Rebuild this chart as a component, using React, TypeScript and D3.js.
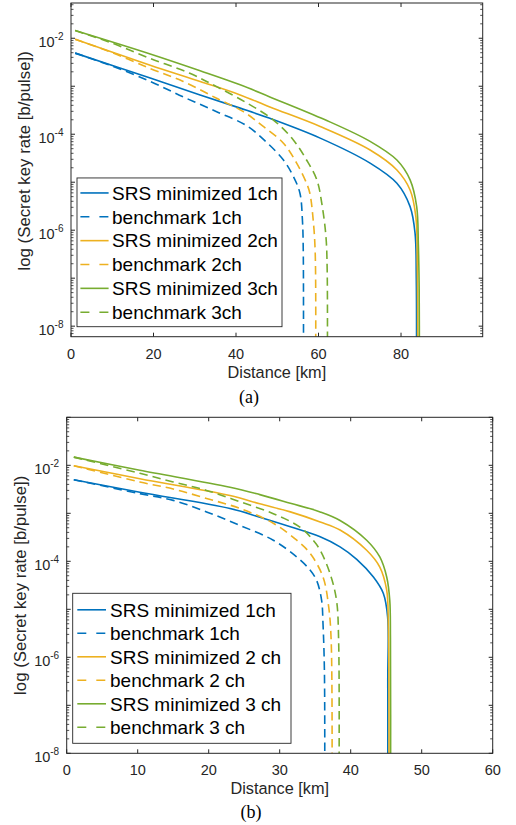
import React from 'react';
import * as d3 from 'd3';

// ---------- colours (MATLAB default order) ----------
const COLORS = ['#0072BD', '#EDB120', '#77AC30'];

// ---------- panel (a) data: distance [km] and secret key rate [b/pulse] ----------
const aSrs1Km = [1, 19.2, 31.3, 41, 48.2, 60.4, 72.5, 79, 82.2, 83.4, 83.7, 83.75];
const aSrs1Rate = [4.9e-3, 1.48e-3, 6.6e-4, 3.5e-4, 2.14e-4, 8.3e-5, 2.5e-5, 9.5e-6, 3.1e-6, 8.7e-7, 1e-7, 1e-9];
const aBen1Km = [1, 10, 19.2, 27.2, 35.3, 42.6, 47.4, 51.5, 53.9, 55.5, 56.1, 56.3, 56.35];
const aBen1Rate = [4.9e-3, 2.63e-3, 1.26e-3, 6.0e-4, 2.95e-4, 1.5e-4, 6.8e-5, 2.9e-5, 1.32e-5, 5.9e-6, 1.62e-6, 3.9e-7, 1e-9];
const aSrs2Km = [1, 19.2, 31.3, 41, 48.2, 60.4, 72.5, 79, 82.2, 83.6, 83.95, 84.05];
const aSrs2Rate = [9.55e-3, 2.75e-3, 1.26e-3, 6.6e-4, 3.7e-4, 1.45e-4, 4.7e-5, 1.8e-5, 6.9e-6, 1.9e-6, 1.6e-7, 1e-9];
const aBen2Km = [1, 10, 19.2, 27.2, 35.3, 41.8, 46.6, 51.5, 54.7, 57.1, 57.9, 58.7, 59.2, 59.3];
const aBen2Rate = [9.55e-3, 5.0e-3, 2.34e-3, 1.26e-3, 5.6e-4, 2.95e-4, 1.45e-4, 6.5e-5, 2.5e-5, 9.5e-6, 5.9e-6, 1.66e-6, 3.4e-7, 1e-9];
const aSrs3Km = [1, 19.2, 31.3, 41, 48.2, 61.6, 72.5, 79, 82.2, 83.8, 84.2, 84.4, 84.45];
const aSrs3Rate = [1.45e-2, 4.7e-3, 2.1e-3, 1.07e-3, 6.0e-4, 2.0e-4, 7.1e-5, 2.9e-5, 1.12e-5, 3.1e-6, 5.0e-7, 6.3e-8, 1e-9];
const aBen3Km = [1, 10, 19.2, 28.8, 35.3, 42.6, 49.0, 53.9, 57.1, 59.6, 60.8, 61.8, 62.1, 62.15];
const aBen3Rate = [1.45e-2, 7.9e-3, 3.8e-3, 1.86e-3, 9.8e-4, 4.5e-4, 2.0e-4, 7.6e-5, 2.9e-5, 1.12e-5, 3.6e-6, 7.4e-7, 1.5e-7, 1e-9];

// ---------- panel (b) data ----------
const bSrs1Km = [1, 10.3, 23.0, 27.2, 31.5, 35.7, 38.5, 40.85, 43.2, 44.6, 45.2, 45.22, 45.23];
const bSrs1Rate = [5.0e-3, 2.75e-3, 1.26e-3, 8.3e-4, 5.25e-4, 3.24e-4, 2.0e-4, 1.1e-4, 4.7e-5, 2.14e-5, 6.9e-6, 3.2e-7, 1e-9];
const bBen1Km = [1, 10.3, 15.0, 19.7, 24.4, 29.1, 32.4, 34.3, 35.2, 35.9, 36.1, 36.3, 36.34];
const bBen1Rate = [5.0e-3, 2.57e-3, 1.86e-3, 1.07e-3, 5.6e-4, 2.75e-4, 1.23e-4, 6.5e-5, 4.0e-5, 1.55e-5, 5.0e-6, 5.0e-7, 1e-9];
const bSrs2Km = [1, 10.3, 23.0, 27.2, 31.5, 35.7, 38.5, 42.25, 44.1, 45.07, 45.3, 45.38, 45.4];
const bSrs2Rate = [9.8e-3, 5.25e-3, 2.34e-3, 1.58e-3, 1.07e-3, 6.6e-4, 4.5e-4, 1.7e-4, 7.6e-5, 2.5e-5, 5.0e-6, 3.2e-7, 1e-9];
const bBen2Km = [1, 10.3, 15.0, 19.7, 24.4, 29.1, 32.4, 34.3, 36.1, 36.9, 37.25, 37.37];
const bBen2Rate = [9.8e-3, 4.5e-3, 3.2e-3, 2.04e-3, 1.26e-3, 6.2e-4, 2.75e-4, 1.45e-4, 4.7e-5, 1.12e-5, 2.24e-6, 1e-9];
const bSrs3Km = [1, 10.3, 23.0, 27.2, 31.5, 35.7, 38.5, 42.25, 44.1, 45.07, 45.5, 45.6, 45.62];
const bSrs3Rate = [1.48e-2, 7.9e-3, 3.5e-3, 2.45e-3, 1.62e-3, 1.07e-3, 7.1e-4, 2.75e-4, 1.23e-4, 4.7e-5, 1.55e-5, 2.5e-6, 1e-9];
const bBen3Km = [1, 10.3, 15.0, 19.7, 24.4, 29.1, 32.9, 34.7, 35.7, 37.1, 38.0, 38.3, 38.35];
const bBen3Rate = [1.48e-2, 6.8e-3, 4.5e-3, 3.0e-3, 1.74e-3, 9.8e-4, 5.1e-4, 2.75e-4, 1.7e-4, 5.5e-5, 1.55e-5, 2.24e-6, 1e-9];

// ---------- axes & labels ----------
const aXDomain = [0, 99.8];
const aXTicks = [0, 20, 40, 60, 80];
const aYDomain = [6.03e-9, 5.43e-2];
const bXDomain = [0, 60];
const bXTicks = [0, 10, 20, 30, 40, 50, 60];
const bYDomain = [1e-8, 1e-1];
const yLabelTicks = [1e-8, 1e-6, 1e-4, 1e-2];
const aLegendLabels = ['SRS minimized 1ch', 'benchmark 1ch', 'SRS minimized 2ch', 'benchmark 2ch', 'SRS minimized 3ch', 'benchmark 3ch'];
const bLegendLabels = ['SRS minimized 1ch', 'benchmark 1ch', 'SRS minimized 2 ch', 'benchmark 2 ch', 'SRS minimized 3 ch', 'benchmark 3 ch'];
const xLabel = 'Distance [km]';
const yLabel = 'log (Secret key rate [b/pulse])';

const FONT = "'Liberation Sans', Arial, Helvetica, sans-serif";
const SERIF = "'Liberation Serif', 'Times New Roman', serif";
const AX = '#262626';

type Series = { km: number[]; rate: number[]; color: string; dashed: boolean };

const zip = (km: number[], rate: number[]) => km.map((k, i) => [k, rate[i]] as [number, number]);

const aSeries: Series[] = [
  { km: aSrs1Km, rate: aSrs1Rate, color: COLORS[0], dashed: false },
  { km: aBen1Km, rate: aBen1Rate, color: COLORS[0], dashed: true },
  { km: aSrs2Km, rate: aSrs2Rate, color: COLORS[1], dashed: false },
  { km: aBen2Km, rate: aBen2Rate, color: COLORS[1], dashed: true },
  { km: aSrs3Km, rate: aSrs3Rate, color: COLORS[2], dashed: false },
  { km: aBen3Km, rate: aBen3Rate, color: COLORS[2], dashed: true },
];
const bSeries: Series[] = [
  { km: bSrs1Km, rate: bSrs1Rate, color: COLORS[0], dashed: false },
  { km: bBen1Km, rate: bBen1Rate, color: COLORS[0], dashed: true },
  { km: bSrs2Km, rate: bSrs2Rate, color: COLORS[1], dashed: false },
  { km: bBen2Km, rate: bBen2Rate, color: COLORS[1], dashed: true },
  { km: bSrs3Km, rate: bSrs3Rate, color: COLORS[2], dashed: false },
  { km: bBen3Km, rate: bBen3Rate, color: COLORS[2], dashed: true },
];

type Box = { left: number; right: number; top: number; bottom: number };

function Panel(props: {
  id: string;
  box: Box;
  xDomain: number[];
  xTicks: number[];
  yDomain: number[];
  series: Series[];
  labels: string[];
  legend: { w: number; rowH: number; padTop: number; sampleX0: number; sampleX1: number; textX: number };
  yLabelShift: number;
  caption: string;
  captionX: number;
  captionY: number;
}) {
  const { id, box, xDomain, xTicks, yDomain, series, labels, legend, yLabelShift, caption, captionX, captionY } = props;
  const x = d3.scaleLinear().domain(xDomain).range([box.left, box.right]);
  const y = d3.scaleLog().domain(yDomain).range([box.bottom, box.top]);
  const line = d3
    .line<[number, number]>()
    .x((d) => x(d[0]))
    .y((d) => y(Math.max(d[1], 1e-12)))
    .curve(d3.curveCatmullRom.alpha(0.5));

  const lo = Math.floor(Math.log10(yDomain[0]));
  const hi = Math.ceil(Math.log10(yDomain[1]));
  const major: number[] = [];
  const minor: number[] = [];
  for (let k = lo; k <= hi; k++) {
    const base = Math.pow(10, k);
    if (base >= yDomain[0] && base <= yDomain[1]) major.push(base);
    for (let m = 2; m <= 9; m++) {
      const v = m * base;
      if (v >= yDomain[0] && v <= yDomain[1]) minor.push(v);
    }
  }
  const tl = 4;
  const tm = 2.5;
  const lgLeft = box.left + 6;
  const lgH = legend.padTop * 2 + legend.rowH * 5 - 0.5;
  const lgTop = box.bottom - 10 - lgH;

  return (
    <g>
      <defs>
        <clipPath id={`clip-${id}`}>
          <rect x={box.left} y={box.top} width={box.right - box.left} height={box.bottom - box.top} />
        </clipPath>
      </defs>
      <rect x={box.left} y={box.top} width={box.right - box.left} height={box.bottom - box.top} fill="#fff" />
      <g clipPath={`url(#clip-${id})`}>
        {series.map((s, i) => (
          <path
            key={i}
            d={line(zip(s.km, s.rate)) || ''}
            fill="none"
            stroke={s.color}
            strokeWidth={1.6}
            strokeDasharray={s.dashed ? '8.5,5' : undefined}
          />
        ))}
      </g>
      {/* axes box */}
      <rect x={box.left} y={box.top} width={box.right - box.left} height={box.bottom - box.top} fill="none" stroke={AX} strokeWidth={1} />
      {/* x ticks */}
      {xTicks.map((t) => (
        <g key={`xt${t}`}>
          <line x1={x(t)} x2={x(t)} y1={box.bottom} y2={box.bottom - tl} stroke={AX} />
          <line x1={x(t)} x2={x(t)} y1={box.top} y2={box.top + tl} stroke={AX} />
          <text x={x(t)} y={box.bottom + 21.8} textAnchor="middle" fontFamily={FONT} fontSize={14.5} fill={AX}>
            {t}
          </text>
        </g>
      ))}
      {/* y ticks */}
      {major.map((v, i) => (
        <g key={`ym${i}`}>
          <line x1={box.left} x2={box.left + tl} y1={y(v)} y2={y(v)} stroke={AX} />
          <line x1={box.right} x2={box.right - tl} y1={y(v)} y2={y(v)} stroke={AX} />
        </g>
      ))}
      {minor.map((v, i) => (
        <g key={`yn${i}`}>
          <line x1={box.left} x2={box.left + tm} y1={y(v)} y2={y(v)} stroke={AX} strokeWidth={0.8} />
          <line x1={box.right} x2={box.right - tm} y1={y(v)} y2={y(v)} stroke={AX} strokeWidth={0.8} />
        </g>
      ))}
      {yLabelTicks.map((v) => (
        <text key={`yl${v}`} x={box.left - 7.5} y={y(v) + 8.5} textAnchor="end" fontFamily={FONT} fontSize={14.5} fill={AX}>
          <tspan>10</tspan>
          <tspan dy={-7} fontSize={10}>
            {String(Math.round(Math.log10(v)))}
          </tspan>
        </text>
      ))}
      {/* axis labels */}
      <text
        x={(box.left + box.right) / 2}
        y={box.bottom + 41}
        textAnchor="middle"
        fontFamily={FONT}
        fontSize={16.3}
        fill={AX}
      >
        {xLabel}
      </text>
      <text
        transform={`translate(${box.left - 41},${(box.top + box.bottom) / 2 + yLabelShift}) rotate(-90)`}
        textAnchor="middle"
        fontFamily={FONT}
        fontSize={16.8}
        fill={AX}
      >
        {yLabel}
      </text>
      {/* legend */}
      <rect x={lgLeft} y={lgTop} width={legend.w} height={lgH} fill="#fff" stroke={AX} strokeWidth={0.9} />
      {series.map((s, i) => {
        const cy = lgTop + legend.padTop + i * legend.rowH;
        return (
          <g key={`lg${i}`}>
            <line
              x1={lgLeft + legend.sampleX0}
              x2={lgLeft + legend.sampleX1}
              y1={cy}
              y2={cy}
              stroke={s.color}
              strokeWidth={1.6}
              strokeDasharray={s.dashed ? '9,10' : undefined}
            />
            <text x={lgLeft + legend.textX} y={cy + 6.8} fontFamily={FONT} fontSize={19} fill="#000">
              {labels[i]}
            </text>
          </g>
        );
      })}
      <text x={captionX} y={captionY} textAnchor="middle" fontFamily={SERIF} fontSize={18} fill="#000">
        {caption}
      </text>
    </g>
  );
}

export default function App() {
  return (
    <div style={{ position: 'absolute', left: 0, top: 0, width: 516, height: 825, background: '#fff' }}>
      <svg width={516} height={825} style={{ display: 'block' }}>
        <rect x={0} y={0} width={516} height={825} fill="#fff" />
        <Panel
          id="a"
          box={{ left: 71, right: 482.7, top: 3, bottom: 336.7 }}
          xDomain={aXDomain}
          xTicks={aXTicks}
          yDomain={aYDomain}
          series={aSeries}
          labels={aLegendLabels}
          legend={{ w: 205, rowH: 23.85, padTop: 15, sampleX0: 3.4, sampleX1: 31.6, textX: 35 }}
          yLabelShift={-9}
          caption="(a)"
          captionX={249}
          captionY={403}
        />
        <Panel
          id="b"
          box={{ left: 66.7, right: 492.7, top: 417.3, bottom: 753.3 }}
          xDomain={bXDomain}
          xTicks={bXTicks}
          yDomain={bYDomain}
          series={bSeries}
          labels={bLegendLabels}
          legend={{ w: 218.3, rowH: 23.5, padTop: 16.5, sampleX0: 4.6, sampleX1: 33.3, textX: 37.3 }}
          yLabelShift={0}
          caption="(b)"
          captionX={251}
          captionY={818}
        />
      </svg>
    </div>
  );
}
